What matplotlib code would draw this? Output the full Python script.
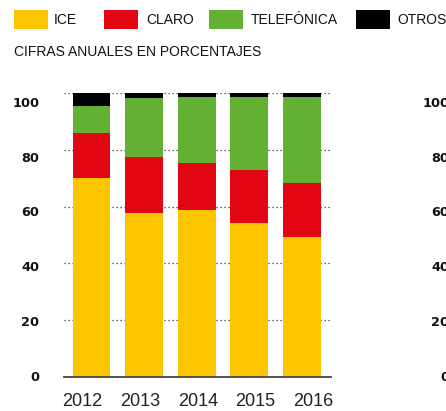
import matplotlib
matplotlib.use("Agg")
import matplotlib.pyplot as plt
from matplotlib.patches import Rectangle
import numpy as np

years = ['2012', '2013', '2014', '2015', '2016']
ice = [70.0, 57.6, 58.8, 54.1, 49.4]
claro = [15.8, 19.7, 16.6, 18.7, 19.0]
telefonica = [9.5, 20.7, 23.2, 25.8, 30.2]
otros = [4.7, 2.0, 1.4, 1.4, 1.4]
series_names = ['ICE', 'CLARO', 'TELEFÓNICA', 'OTROS']
series_colors = ['#FDC500', '#E20613', '#63B132', '#000000']
yticks = [0, 20, 40, 60, 80, 100]
subtitle = 'CIFRAS ANUALES EN PORCENTAJES'

W, H = 446, 411
fig = plt.figure(figsize=(W / 100, H / 100), dpi=100)

def fx(px):
    return px / W

def fy(py):
    return 1 - py / H

# main axes
ax_left, ax_right, ax_top, ax_bot = 64, 331, 92.7, 377.3
ax = fig.add_axes([fx(ax_left), fy(ax_bot), fx(ax_right - ax_left), (ax_bot - ax_top) / H])
x = np.arange(len(years))
ax.set_xlim(-0.523, 4.555)
ax.set_ylim(0, 100)

series = [ice, claro, telefonica, otros]
bottom = np.zeros(len(years))
for vals, col in zip(series, series_colors):
    ax.bar(x, vals, bottom=bottom, width=0.72, color=col, zorder=3, linewidth=0)
    bottom += np.array(vals)

# dotted gridlines
ax.hlines(yticks[1:], -0.523, 4.555, colors='#333333', linestyles=(0, (1, 2.2)),
          linewidth=0.9, zorder=1)

for s in ['top', 'right', 'left']:
    ax.spines[s].set_visible(False)
ax.spines['bottom'].set_color('#444444')
ax.spines['bottom'].set_linewidth(1.3)
ax.spines['bottom'].set_zorder(4)

# tick labels (placed as in the reference)
ylabpos = np.array(yticks) * 0.963 + 0.5
ax.set_yticks(ylabpos)
ax.set_yticklabels([str(v) for v in yticks], fontsize=9.3, fontweight='bold',
                   family='DejaVu Sans', color='#111111')
ax.tick_params(axis='y', length=0, pad=17.8)
ax.set_xticks(x * 1.095 - 0.17)
ax.set_xticklabels(years, fontsize=13, family='Liberation Sans', color='#222222')
ax.tick_params(axis='x', length=0, pad=11)

# second (cropped) chart on the right
ax2 = fig.add_axes([fx(474), fy(ax_bot), 0.3, (ax_bot - ax_top) / H])
ax2.set_ylim(0, 100)
ax2.set_yticks(ylabpos)
ax2.set_yticklabels([str(v) for v in yticks], fontsize=9.3, fontweight='bold',
                    family='DejaVu Sans', color='#111111')
ax2.tick_params(axis='y', length=0, pad=17.8)
ax2.set_xticks([])
for s in ax2.spines.values():
    s.set_visible(False)

# legend
sw_x = [14, 104, 209, 356]
tx_x = [54, 146, 251, 397]
for name, col, sx, tx in zip(series_names, series_colors, sw_x, tx_x):
    fig.add_artist(Rectangle((fx(sx), fy(29)), fx(34), 19 / H, transform=fig.transFigure,
                             facecolor=col, edgecolor='none'))
    fig.text(fx(tx), fy(19.5), name, fontsize=10, family='Liberation Sans',
             va='center', ha='left', color='#111111')

fig.text(fx(14), fy(51.7), subtitle, fontsize=10, family='Liberation Sans',
         va='center', ha='left', color='#111111')

fig.savefig('out.png', dpi=100)
